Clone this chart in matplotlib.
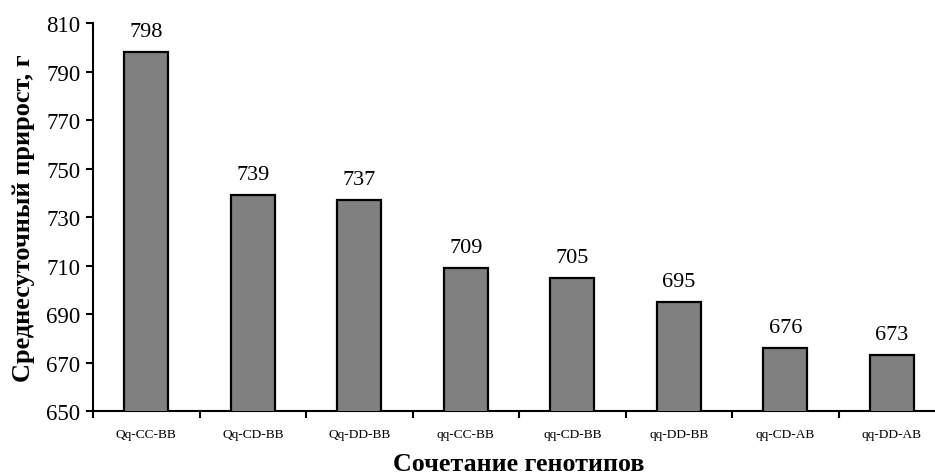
import numpy as np
import matplotlib
matplotlib.use('Agg')
import matplotlib.pyplot as plt

plt.rcParams['font.family'] = ['Liberation Serif', 'DejaVu Serif']

genotypes = ['Qq-CC-BB', 'Qq-CD-BB', 'Qq-DD-BB', 'qq-CC-BB',
             'qq-CD-BB', 'qq-DD-BB', 'qq-CD-AB', 'qq-DD-AB']
gain = [798, 739, 737, 709, 705, 695, 676, 673]
yticks = [650, 670, 690, 710, 730, 750, 770, 790, 810]

fig = plt.figure(figsize=(9.35, 4.77), dpi=100)
ax = fig.add_axes([0.0995, 0.1363, 0.9112, 0.8128])

x = np.arange(len(genotypes)) + 0.5
bars = ax.bar(x, gain, width=0.41, color='#808080', edgecolor='black', linewidth=1.6, zorder=3)

for xi, v in zip(x, gain):
    ax.annotate(str(v), (xi, v), xytext=(0, 8), textcoords='offset points',
                ha='center', va='bottom', fontsize=16)

ax.set_xlim(0, len(genotypes))
ax.set_ylim(650, 810)
ax.set_yticks(yticks)
ax.tick_params(axis='y', labelsize=16.5, direction='out', length=5, width=1.5, pad=4)

# category labels in the middle, tick marks between categories
ax.set_xticks(np.arange(len(genotypes) + 1))
ax.set_xticklabels([])
ax.set_xticks(x, minor=True)
ax.set_xticklabels(genotypes, minor=True, fontsize=9.6)
ax.tick_params(axis='x', which='major', direction='out', length=5, width=1.5)
ax.tick_params(axis='x', which='minor', length=0, pad=12)

for side in ['top', 'right']:
    ax.spines[side].set_visible(False)
for side in ['left', 'bottom']:
    ax.spines[side].set_linewidth(1.5)

ax.set_ylabel('Среднесуточный прирост, г', fontsize=19, fontweight='bold', labelpad=8)
ax.set_xlabel('Сочетание генотипов', fontsize=18.7, fontweight='bold', labelpad=9)

fig.savefig('out.png', dpi=100)
